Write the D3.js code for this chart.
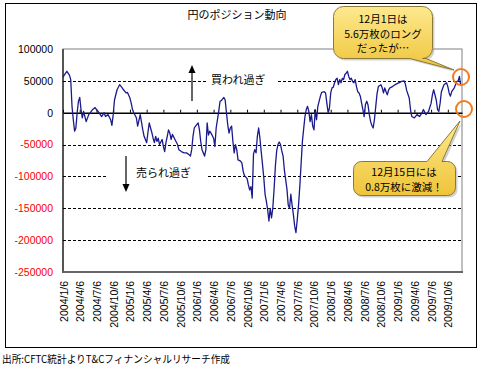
<!DOCTYPE html>
<html>
<head>
<meta charset="utf-8">
<script src="https://cdn.jsdelivr.net/npm/d3@7/dist/d3.min.js"></script>
<style>
  body { margin: 0; background: #fff; }
  .jp { font-family: "Noto Sans CJK JP", "Noto Sans", sans-serif; }
  .num { font-family: "Liberation Sans", Arial, sans-serif; }
</style>
</head>
<body>
<div id="chart"></div>
<script>
// weekly CFTC data, week index counted from 2004/1/6
var weeks = [0,2,3,5,6,7,8,9,10,11,12,13,14,15,16,17,18,20,23,25,26,28,30,32,33,35,37,38,39,40,
  42,44,46,47,49,50,52,53,54,55,57,58,59,60,62,63,65,66,67,69,70,71,72,73,74,75,77,78,79,80,
  81,82,83,84,85,87,89,90,92,94,96,98,99,100,101,102,103,105,106,107,108,110,111,112,113,114,115,117,118,119,
  121,122,123,125,126,127,128,129,130,131,132,133,134,135,136,138,139,140,141,143,144,145,146,147,
  148,149,150,151,152,153,154,155,156,157,158,159,160,161,162,163,164,165,166,167,168,169,170,171,
  172,173,174,175,176,177,178,179,180,181,182,183,184,185,186,187,188,189,190,191,192,193,194,195,
  196,197,198,200,201,203,204,205,206,207,208,209,210,211,212,213,214,215,216,217,218,219,220,221,
  222,223,224,225,226,227,228,229,230,231,232,233,234,235,236,237,238,239,240,241,242,243,244,245,
  247,248,249,250,251,252,253,254,256,258,260,262,263,265,266,267,269,270,271,273,275,277,279,280,
  282,284,286,287,288,290,291,292,293,294,296,298,299,300,301,302,304,306,307,308,309];
var netPosition = [56000,62000,65000,59000,52000,10000,-11000,-29000,-24000,0,18000,24000,5000,-8000,2000,-6000,-14000,-3000,5000,8000,
  5000,0,-6000,0,-6000,-3000,-11000,-20000,-3000,20000,
  36000,44000,39000,36000,31000,32000,23000,15000,5000,0,-8000,-21000,-12000,-3000,-27000,-37000,-47000,-31000,-16000,-31000,
  -40000,-47000,-37000,-45000,-40000,-50000,-42000,-53000,-61000,-47000,
  -37000,-27000,-32000,-42000,-34000,-42000,-50000,-58000,-61000,-63000,-63000,-66000,-68000,-58000,-37000,-24000,-21000,-16000,-27000,-45000,
  -58000,-68000,-58000,-16000,-35000,-29000,-32000,-40000,-53000,-24000,
  2000,18000,19000,24000,20000,0,-19000,-32000,-24000,-21000,-45000,-63000,-50000,-58000,-74000,-76000,-79000,-92000,-99000,-103000,
  -113000,-121000,-116000,-134000,
  -65000,-58000,-63000,-37000,-24000,-40000,-61000,-81000,-102000,-128000,-139000,-152000,-170000,-150000,-165000,-150000,-120000,-84000,-60000,-50000,
  -46000,-50000,-60000,-68000,
  -90000,-105000,-120000,-145000,-150000,-128000,-145000,-160000,-178000,-188000,-168000,-145000,-115000,-80000,-45000,-25000,-6000,5000,10000,2000,
  -14000,-3000,-21000,-27000,
  5000,-11000,10000,26000,32000,33000,31000,15000,0,7000,31000,39000,40000,47000,52000,54000,44000,52000,47000,54000,
  52000,60000,62000,65000,
  57000,52000,54000,49000,47000,52000,41000,33000,31000,26000,15000,5000,-6000,13000,18000,12000,-3000,-14000,-20000,-24000,
  -10000,10000,30000,41000,
  44000,39000,31000,39000,33000,28000,36000,39000,41000,44000,46000,48000,49000,50000,45000,35000,23000,5000,-6000,-8000,
  -3000,-6000,0,5000,
  -3000,2000,15000,28000,36000,20000,5000,2000,15000,33000,44000,47000,41000,31000,26000,33000,39000,49000,50000,57000,42000];

var tickLabels = ["2004/1/6","2004/4/6","2004/7/6","2004/10/6","2005/1/6","2005/4/6","2005/7/6","2005/10/6",
  "2006/1/6","2006/4/6","2006/7/6","2006/10/6","2007/1/6","2007/4/6","2007/7/6","2007/10/6",
  "2008/1/6","2008/4/6","2008/7/6","2008/10/6","2009/1/6","2009/4/6","2009/7/6","2009/10/6"];
var labelWeeks = tickLabels.map(function(d, i) { return i * 13; });
var yTicks = [100000, 50000, 0, -50000, -100000, -150000, -200000, -250000];
var gridValues = [50000, -50000, -100000, -150000, -200000];

var title = "円のポジション動向";
var source = "出所:CFTC統計よりT&Cフィナンシャルリサーチ作成";
var callout1 = ["12月1日は", "5.6万枚のロング", "だったが…"];
var callout2 = ["12月15日には", "0.8万枚に激減！"];

// plot box
var plotL = 63, plotR = 462, plotT = 49, plotB = 272;

var x = d3.scaleLinear().domain([0, 310]).range([plotL, plotR]);
var y = d3.scaleLinear().domain([-250000, 100000]).range([plotB, plotT]);

var svg = d3.select("#chart").append("svg")
  .attr("width", 480).attr("height", 370);

// outer frame
svg.append("rect")
  .attr("x", 5.5).attr("y", 3.5).attr("width", 471).attr("height", 344)
  .attr("fill", "#fff").attr("stroke", "#000");

// title
svg.append("text").attr("class", "jp")
  .attr("x", 237).attr("y", 19).attr("text-anchor", "middle")
  .attr("font-size", 11).attr("fill", "#000").text(title);

// plot border
svg.append("rect")
  .attr("x", plotL).attr("y", plotT).attr("width", plotR - plotL).attr("height", plotB - plotT)
  .attr("fill", "#fff").attr("stroke", "#808080");
svg.append("line").attr("x1", plotL).attr("x2", plotL).attr("y1", plotT).attr("y2", plotB + 1)
  .attr("stroke", "#555").attr("stroke-width", 2);
svg.append("line").attr("x1", plotL).attr("x2", plotR + 1).attr("y1", plotB).attr("y2", plotB)
  .attr("stroke", "#666").attr("stroke-width", 2);

// dashed gridlines
svg.append("g").selectAll("line")
  .data(gridValues)
  .enter().append("line")
  .attr("x1", plotL).attr("x2", plotR)
  .attr("y1", function(d) { return Math.round(y(d)) + 0.5; })
  .attr("y2", function(d) { return Math.round(y(d)) + 0.5; })
  .attr("stroke", "#000").attr("stroke-dasharray", "3,2");

// gaps behind the annotation texts
svg.append("rect").attr("x", 208).attr("y", 74).attr("width", 70).attr("height", 13).attr("fill", "#fff");
svg.append("rect").attr("x", 107).attr("y", 167).attr("width", 100).attr("height", 14).attr("fill", "#fff");

// annotations
var arrowHead = function(cx, tipY, dir) {
  return "M" + (cx - 3.5) + "," + (tipY + dir * 8) + "L" + cx + "," + tipY + "L" + (cx + 3.5) + "," + (tipY + dir * 8) + "Z";
};
svg.append("line").attr("x1", 192).attr("x2", 192).attr("y1", 101).attr("y2", 70)
  .attr("stroke", "#000").attr("stroke-width", 1.2);
svg.append("path").attr("d", arrowHead(192, 65, 1)).attr("fill", "#000");
svg.append("text").attr("class", "jp").attr("x", 211).attr("y", 84)
  .attr("font-size", 11).text("買われ過ぎ");

svg.append("line").attr("x1", 126).attr("x2", 126).attr("y1", 156).attr("y2", 187)
  .attr("stroke", "#000").attr("stroke-width", 1.2);
svg.append("path").attr("d", arrowHead(126, 192, -1)).attr("fill", "#000");
svg.append("text").attr("class", "jp").attr("x", 136).attr("y", 177)
  .attr("font-size", 11).text("売られ過ぎ");

// y axis
var yAxis = svg.append("g")
  .attr("class", "num")
  .attr("transform", "translate(" + plotL + ",0)")
  .call(d3.axisLeft(y).tickValues(yTicks).tickSize(0).tickPadding(10)
    .tickFormat(function(d) { return String(d); }));
yAxis.select(".domain").remove();
yAxis.selectAll("text")
  .attr("font-size", 10.5)
  .attr("font-family", "Liberation Sans, Arial, sans-serif")
  .attr("fill", function(d) { return d < 0 ? "#ff0000" : "#000"; });

// category labels
var xAxis = svg.append("g")
  .attr("transform", "translate(0," + plotB + ")")
  .call(d3.axisBottom(x).tickValues(labelWeeks).tickSize(0)
    .tickFormat(function(d, i) { return tickLabels[i]; }));
xAxis.select(".domain").remove();
xAxis.selectAll("text")
  .attr("font-size", 10.5)
  .attr("font-family", "Liberation Sans, Arial, sans-serif")
  .attr("fill", "#000")
  .attr("transform", "rotate(-90)")
  .attr("text-anchor", "end")
  .attr("x", -9).attr("y", 0).attr("dy", "0.38em");

// zero line with category ticks
var zeroAxis = svg.append("g")
  .attr("transform", "translate(0," + y(0) + ")")
  .call(d3.axisTop(x).tickValues(labelWeeks).tickSize(3).tickSizeOuter(0).tickFormat(""));
zeroAxis.select(".domain").attr("stroke", "#000").attr("stroke-width", 1.5);
zeroAxis.selectAll(".tick line").attr("stroke", "#000");

// series
var line = d3.line()
  .x(function(d, i) { return x(weeks[i]); })
  .y(function(d) { return y(d); });
svg.append("path")
  .datum(netPosition)
  .attr("d", line)
  .attr("fill", "none")
  .attr("stroke", "#1a1a8c")
  .attr("stroke-width", 1.3)
  .attr("stroke-linejoin", "round");

// callouts
var defs = svg.append("defs");
var grad = defs.append("linearGradient").attr("id", "yellow")
  .attr("x1", 0).attr("y1", 0).attr("x2", 0).attr("y2", 1);
grad.append("stop").attr("offset", "0%").attr("stop-color", "#fde98e");
grad.append("stop").attr("offset", "100%").attr("stop-color", "#efc43a");

function bubble(x0, y0, x1, y1, r, b1, b2, tip, onTop) {
  var p = d3.path();
  p.moveTo(x0 + r, y0);
  if (onTop) { p.lineTo(b1, y0); p.lineTo(tip[0], tip[1]); p.lineTo(b2, y0); }
  p.lineTo(x1 - r, y0);
  p.arcTo(x1, y0, x1, y0 + r, r);
  p.lineTo(x1, y1 - r);
  p.arcTo(x1, y1, x1 - r, y1, r);
  if (!onTop) { p.lineTo(b2, y1); p.lineTo(tip[0], tip[1]); p.lineTo(b1, y1); }
  p.lineTo(x0 + r, y1);
  p.arcTo(x0, y1, x0, y1 - r, r);
  p.lineTo(x0, y0 + r);
  p.arcTo(x0, y0, x0 + r, y0, r);
  p.closePath();
  return p.toString();
}

function drawBubble(d, lines, cx, firstY, step) {
  svg.append("path").attr("d", d).attr("fill", "#999").attr("opacity", 0.45)
    .attr("transform", "translate(2,2)");
  svg.append("path").attr("d", d).attr("fill", "url(#yellow)")
    .attr("stroke", "#8a7a3a").attr("stroke-width", 1);
  svg.append("g").selectAll("text")
    .data(lines)
    .enter().append("text")
    .attr("class", "jp")
    .attr("x", cx)
    .attr("y", function(t, i) { return firstY + i * step; })
    .attr("text-anchor", "middle")
    .attr("font-size", 10.5)
    .attr("fill", "#000")
    .text(function(t) { return t; });
}

drawBubble(bubble(333.5, 6.5, 432.5, 58.5, 10, 410, 426, [454, 70], false), callout1, 383, 23, 14.5);
drawBubble(bubble(353.5, 161.5, 455.5, 195.5, 8, 427, 442, [460, 121], true), callout2, 404, 176, 15);

// highlight circles
svg.append("circle").attr("cx", 461).attr("cy", 77).attr("r", 8)
  .attr("fill", "none").attr("stroke", "#f47a20").attr("stroke-width", 2);
svg.append("circle").attr("cx", 464).attr("cy", 109).attr("r", 8)
  .attr("fill", "none").attr("stroke", "#f47a20").attr("stroke-width", 2);

// source
svg.append("text").attr("class", "jp")
  .attr("x", 2).attr("y", 363)
  .attr("font-size", 10.5)
  .attr("textLength", 228).attr("lengthAdjust", "spacingAndGlyphs")
  .text(source);
</script>
</body>
</html>
